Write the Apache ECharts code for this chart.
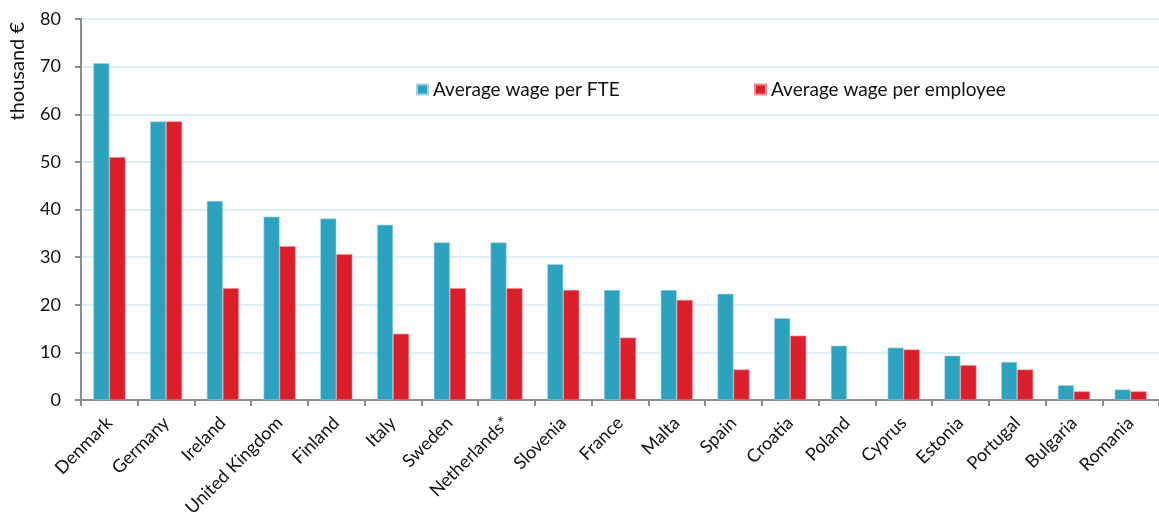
<!DOCTYPE html>
<html>
<head>
<meta charset="utf-8">
<script src="https://cdn.jsdelivr.net/npm/echarts@6/dist/echarts.min.js"></script>
<style>
html, body { margin: 0; padding: 0; background: #fff; }
#chart { width: 1159px; height: 523px; }
</style>
</head>
<body>
<div id="chart"></div>
<script>
const countries = ['Denmark', 'Germany', 'Ireland', 'United Kingdom', 'Finland', 'Italy', 'Sweden',
  'Netherlands*', 'Slovenia', 'France', 'Malta', 'Spain', 'Croatia', 'Poland', 'Cyprus',
  'Estonia', 'Portugal', 'Bulgaria', 'Romania'];
const wagePerFte = [70.7, 58.5, 41.8, 38.5, 38.1, 36.8, 33.1, 33.1, 28.5, 23.1, 23.1, 22.3, 17.2, 11.4, 11.0, 9.3, 8.0, 3.1, 2.2];
const wagePerEmployee = [51.0, 58.5, 23.5, 32.3, 30.6, 13.9, 23.5, 23.5, 23.1, 13.1, 21.0, 6.4, 13.5, null, 10.6, 7.3, 6.4, 1.8, 1.8];
const yTicks = [0, 10, 20, 30, 40, 50, 60, 70, 80];

const font = 'Lato, "Open Sans", sans-serif';
const chart = echarts.init(document.getElementById('chart'));

const option = {
  animation: false,
  textStyle: { fontFamily: font },
  grid: { left: 81, right: -6, top: 19, bottom: 123 },
  legend: [
    {
      data: ['Average wage per FTE'],
      left: 411, top: 75,
      itemWidth: 11, itemHeight: 10, itemGap: 6, icon: 'rect',
      textStyle: { fontSize: 19, color: '#111', fontFamily: font }
    },
    {
      data: ['Average wage per employee'],
      left: 749, top: 75,
      itemWidth: 11, itemHeight: 10, icon: 'rect',
      textStyle: { fontSize: 19, color: '#111', fontFamily: font }
    }
  ],
  graphic: [{
    type: 'text',
    left: 8, top: 22,
    rotation: Math.PI / 2,
    style: { text: 'thousand €', font: '20px ' + font, fill: '#111' }
  }],
  xAxis: {
    type: 'category',
    data: countries,
    axisLine: { lineStyle: { color: '#8c8c8c', width: 2 } },
    axisTick: { show: true, length: 6, lineStyle: { color: '#8c8c8c', width: 2 } },
    axisLabel: { rotate: 45, fontSize: 18, color: '#111', margin: 20, interval: 0 }
  },
  yAxis: {
    type: 'value',
    min: yTicks[0], max: yTicks[yTicks.length - 1], interval: 10,
    axisLine: { show: true, lineStyle: { color: '#8c8c8c', width: 2 } },
    axisTick: { show: true, length: 6, lineStyle: { color: '#8c8c8c', width: 2 } },
    axisLabel: { fontSize: 18, color: '#111', margin: 20 },
    splitLine: { lineStyle: { color: '#dcf0f7', width: 2 } }
  },
  series: [
    {
      name: 'Average wage per FTE',
      type: 'bar',
      data: wagePerFte,
      barWidth: 16,
      barGap: '0%',
      itemStyle: { color: '#2ca2bf', borderColor: '#9fd3e2', borderWidth: 0.6 }
    },
    {
      name: 'Average wage per employee',
      type: 'bar',
      data: wagePerEmployee,
      barWidth: 16,
      itemStyle: { color: '#da1f2a', borderColor: '#f08a8f', borderWidth: 0.6 }
    }
  ]
};
chart.setOption(option);
</script>
</body>
</html>
